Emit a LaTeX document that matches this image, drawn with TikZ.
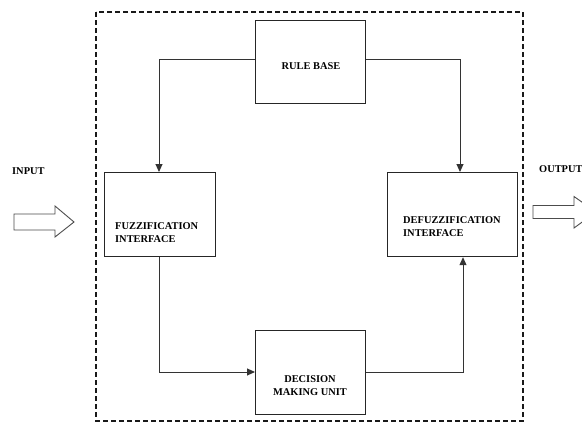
\documentclass[tikz,border=0pt]{standalone}
\usepackage{fontspec}
\setmainfont{Liberation Serif}
\usetikzlibrary{arrows.meta}
\begin{document}
\begin{tikzpicture}[x=1pt,y=-1pt,
  blk/.style={draw=black!85, line width=1.2pt, rectangle, inner sep=0pt},
  lbl/.style={font=\bfseries\fontsize{10.4}{13}\selectfont, inner sep=0pt},
  conn/.style={draw=black!80, line width=1pt, -{Triangle[length=8pt,width=7pt]}},
  hollow/.style={draw=black!70, line width=0.9pt, fill=white}]
\useasboundingbox (0,0) rectangle (582,423);
\fill[white] (0,0) rectangle (582,423);
% dashed frame
\draw[black!90, line width=1.8pt, dash pattern=on 5pt off 3pt] (96,12) rectangle (523,421);
% blocks
\node[blk, minimum width=110pt, minimum height=83pt, anchor=north west] (rb) at (255,20) {};
\node[blk, minimum width=111pt, minimum height=84pt, anchor=north west] (fz) at (104,172) {};
\node[blk, minimum width=130pt, minimum height=84pt, anchor=north west] (dz) at (387,172) {};
\node[blk, minimum width=110pt, minimum height=84pt, anchor=north west] (dm) at (255,330) {};
% labels
\node[lbl] (rbt) at (311,66) {RULE BASE};
\node[lbl, anchor=west, align=left] (fzt) at (115,233) {FUZZIFICATION\\INTERFACE};
\node[lbl, anchor=west, align=left] (dzt) at (403,227) {DEFUZZIFICATION\\INTERFACE};
\node[lbl, align=center] (dmt) at (310,386) {DECISION\\MAKING UNIT};
\node[lbl, anchor=west] (inp) at (12,171) {INPUT};
\node[lbl, anchor=west] (outp) at (539,169) {OUTPUT};
% connectors
\coordinate (c1) at (159,59);
\coordinate (c2) at (460,59);
\coordinate (c3) at (159,372);
\coordinate (c4) at (463,372);
\draw[conn] (rb.west |- c1) -- (c1) -- (c1 |- fz.north);
\draw[conn] (rb.east |- c2) -- (c2) -- (c2 |- dz.north);
\draw[conn] (c3 |- fz.south) -- (c3) -- (dm.west |- c3);
\draw[conn] (dm.east |- c4) -- (c4) -- (c4 |- dz.south);
% hollow arrows
\draw[hollow] (14,214) -- (55,214) -- (55,206) -- (74,222) -- (55,237) -- (55,230) -- (14,230) -- cycle;
\draw[hollow] (533,205.5) -- (574,205.5) -- (574,196.5) -- (596,212) -- (574,228) -- (574,218.5) -- (533,218.5) -- cycle;
\end{tikzpicture}
\end{document}
